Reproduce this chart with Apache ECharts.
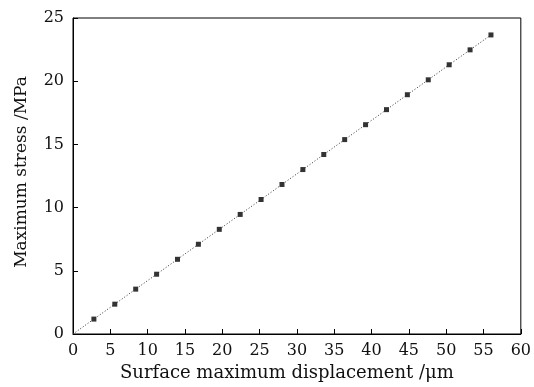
<!DOCTYPE html>
<html>
<head>
<meta charset="utf-8">
<script src="https://cdn.jsdelivr.net/npm/echarts@6/dist/echarts.min.js"></script>
<style>
html,body{margin:0;padding:0;background:#fff;}
#main{width:534px;height:387px;}
</style>
</head>
<body>
<div id="main"></div>
<script>
// 位移 (μm) 与最大应力 (MPa)
var displacement = [2.8, 5.6, 8.4, 11.2, 14.0, 16.8, 19.6, 22.4, 25.2, 28.0, 30.8, 33.6, 36.4, 39.2, 42.0, 44.8, 47.6, 50.4, 53.2, 56.0];
var stress = [1.18, 2.36, 3.55, 4.73, 5.91, 7.10, 8.28, 9.46, 10.64, 11.83, 13.01, 14.20, 15.38, 16.56, 17.75, 18.93, 20.11, 21.30, 22.48, 23.66];
var xTicks = [0, 5, 10, 15, 20, 25, 30, 35, 40, 45, 50, 55, 60];
var yTicks = [0, 5, 10, 15, 20, 25];

var myChart = echarts.init(document.getElementById('main'));
var font = '"DejaVu Serif", "Liberation Serif", serif';

var points = [];
for (var i = 0; i < displacement.length; i++) {
	points.push([displacement[i], stress[i]]);
}
var linePoints = [[0, 0]].concat(points);

var axisCommon = {
	axisLine: {show: true, lineStyle: {color: '#000', width: 1}},
	axisTick: {show: true, inside: true, length: 5, lineStyle: {color: '#000'}},
	axisLabel: {color: '#111', fontFamily: font, fontSize: 16, margin: 9},
	splitLine: {show: false}
};

var option = {
	animation: false,
	grid: {left: 73, right: 10, top: 18, bottom: 52, show: true, borderColor: '#000', borderWidth: 1},
	xAxis: echarts.util.merge({
		type: 'value',
		min: xTicks[0],
		max: xTicks[xTicks.length - 1],
		interval: 5,
		name: 'Surface maximum displacement /\u03bcm',
		nameLocation: 'middle',
		nameGap: 30,
		nameTextStyle: {color: '#111', fontFamily: font, fontSize: 18, padding: [0, 20, 0, 0]}
	}, axisCommon, true),
	yAxis: echarts.util.merge({
		type: 'value',
		min: yTicks[0],
		max: yTicks[yTicks.length - 1],
		interval: 5,
		name: 'Maximum stress /MPa',
		nameLocation: 'middle',
		nameGap: 43,
		nameTextStyle: {color: '#111', fontFamily: font, fontSize: 17, padding: [0, 0, 0, 8]}
	}, axisCommon, true),
	series: [
		{
			type: 'line',
			data: linePoints,
			showSymbol: false,
			lineStyle: {color: '#333', width: 1, type: [1, 2]}
		},
		{
			type: 'scatter',
			data: points,
			symbol: 'rect',
			symbolSize: 5,
			itemStyle: {color: '#000'}
		}
	]
};
myChart.setOption(option);
</script>
</body>
</html>
